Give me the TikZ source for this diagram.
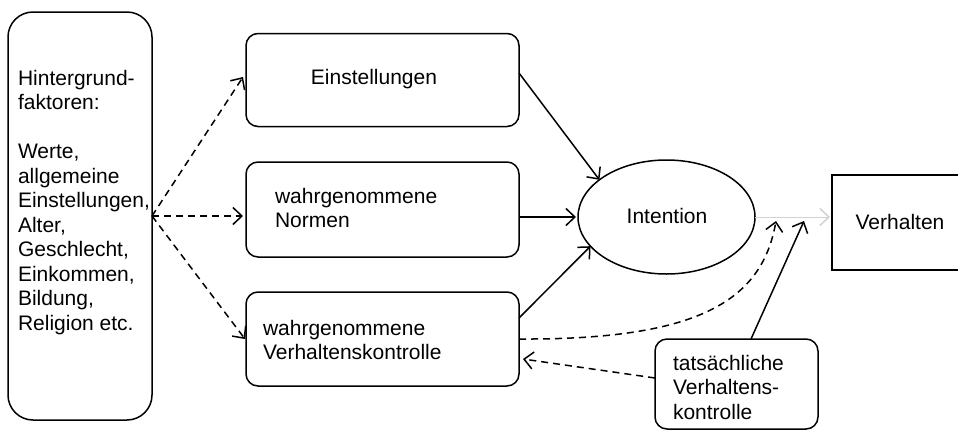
\documentclass[tikz,border=0pt]{standalone}
\usepackage{fontspec}
\setmainfont{Liberation Sans}
\usetikzlibrary{arrows.meta,shapes.geometric,calc}
\begin{document}
\begin{tikzpicture}[x=1pt,y=-1pt,
  line width=1.5pt,
  every node/.style={inner sep=0pt,outer sep=0pt},
  txt/.style={font=\fontsize{21}{24.5}\selectfont, align=left},
  rbox/.style={draw, rounded corners=12pt},
  arr/.style={-{Straight Barb[length=9pt,width=17pt,line width=1.5pt]}},
  dsh/.style={arr, dash pattern=on 7pt off 5pt},
]
\useasboundingbox (0,0) rectangle (958,429);
% boxes
\node[rbox, rounded corners=25pt, minimum width=144pt, minimum height=408pt] (bg) at (80,216) {};
\node[rbox, minimum width=273pt, minimum height=93pt] (ein) at (382.5,80) {};
\node[rbox, minimum width=273pt, minimum height=95pt] (nor) at (382.5,209.5) {};
\node[rbox, minimum width=273pt, minimum height=94pt] (vk) at (382.5,339) {};
\node[draw, ellipse, minimum width=177pt, minimum height=114pt] (int) at (666.5,217) {};
\node[draw, minimum width=132pt, minimum height=95pt] (verh) at (898,222.5) {};
\node[rbox, minimum width=163pt, minimum height=90pt] (tat) at (736.5,384) {};
% texts
\node[txt, anchor=north west] (bgt) at (18,70) {Hintergrund-\\faktoren:\\[24.5pt]Werte,\\allgemeine\\Einstellungen,\\Alter,\\Geschlecht,\\Einkommen,\\Bildung,\\Religion etc.};
\node[txt, anchor=base] (eint) at (374,84) {Einstellungen};
\node[txt, anchor=north west] (nort) at (275,188) {wahrgenommene\\Normen};
\node[txt, anchor=north west] (vkt) at (263,320) {wahrgenommene\\Verhaltenskontrolle};
\node[txt, anchor=base] (intt) at (667,223) {Intention};
\node[txt, anchor=base] (verht) at (900,229) {Verhalten};
\node[txt, anchor=north west] (tatt) at (673,355) {tatsächliche\\Verhaltens-\\kontrolle};
% free ends
\coordinate (p1) at (776,221);
\coordinate (p2) at (804,221);
% dashed from background
\draw[dsh] (bg.east) -- ([xshift=-3pt,yshift=3pt]ein.west);
\draw[dsh] (bg.east) -- ([xshift=-3pt]bg.east -| nor.west);
\draw[dsh] (bg.east) -- ([xshift=-1pt]vk.west);
% solid to intention
\draw[arr] ([yshift=7pt]ein.east) -- (int.151);
\draw[arr] (nor.east |- int.west) -- ([xshift=-2pt]int.west);
\draw[arr] ([yshift=21pt]vk.east) -- (int.201);
% gray to Verhalten
\draw[arr, gray!35, line width=0.8pt] (int.east) -- ([xshift=-2pt]int.east -| verh.west);
% dashed curve
\draw[dsh] (vk.east) .. controls (700,340) and (762,300) .. (p1);
\draw[dsh] ([yshift=6pt]tat.west) -- ([xshift=4pt,yshift=-20pt]vk.east);
\draw[arr] (tat.north -| 751,0) -- (p2);
\end{tikzpicture}
\end{document}
